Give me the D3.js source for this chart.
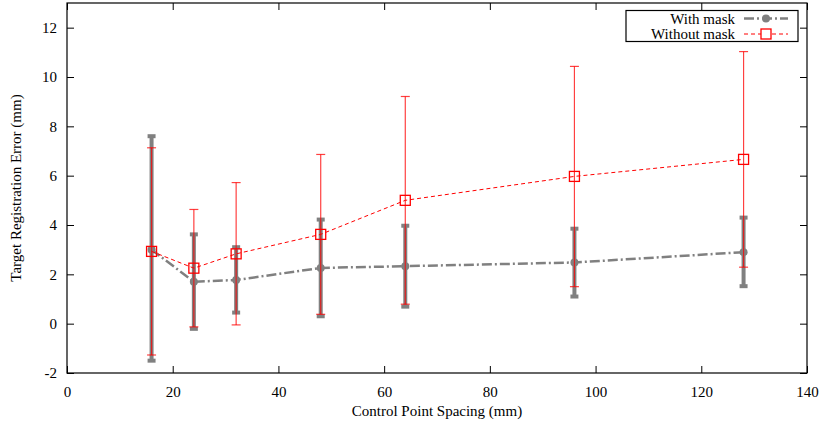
<!DOCTYPE html>
<html>
<head>
<meta charset="utf-8">
<script src="https://cdn.jsdelivr.net/npm/d3@7"></script>
<style>
  body { margin: 0; background: #fff; }
  svg text { font-family: 'Liberation Serif', 'Times New Roman', Times, 'DejaVu Serif', serif !important; }
</style>
</head>
<body>
<svg class="tre-chart"></svg>
<script>
// control point spacing (mm)
const spacing = [16, 24, 32, 48, 64, 96, 128];

// with mask: mean and error bar ends
const withMask = [3.0, 1.70, 1.77, 2.26, 2.33, 2.48, 2.90];
const withMaskLow = [-1.5, -0.21, 0.45, 0.30, 0.69, 1.10, 1.52];
const withMaskHigh = [7.6, 3.62, 3.10, 4.22, 3.97, 3.85, 4.30];

// without mask
const withoutMask = [2.93, 2.25, 2.83, 3.62, 5.00, 5.97, 6.66];
const withoutMaskLow = [-1.27, -0.13, -0.05, 0.38, 0.79, 1.50, 2.29];
const withoutMaskHigh = [7.13, 4.63, 5.72, 6.86, 9.21, 10.43, 11.03];

const xTicks = [0, 20, 40, 60, 80, 100, 120, 140];
const yTicks = [-2, 0, 2, 4, 6, 8, 10, 12];

const width = 821;
const height = 423;
const margin = { top: 3, right: 14, bottom: 50, left: 67 };
const fontSize = 15;

const svg = d3.select('.tre-chart')
  .attr('width', width)
  .attr('height', height);

const x = d3.scaleLinear().domain([0, 140]).range([margin.left, width - margin.right]);
const y = d3.scaleLinear().domain([-2, 13]).range([height - margin.bottom, margin.top]);

const plotLeft = x(0);
const plotRight = x(140);
const plotTop = y(13);
const plotBottom = y(-2);

// frame with inward ticks on all four sides
svg.append('rect')
  .attr('x', plotLeft)
  .attr('y', plotTop)
  .attr('width', plotRight - plotLeft)
  .attr('height', plotBottom - plotTop)
  .attr('fill', 'none')
  .attr('stroke', '#000')
  .attr('stroke-width', 1.2);

const tickLen = 7;

// bottom axis
const xAxis = svg.append('g')
  .attr('transform', `translate(0, ${plotBottom})`)
  .call(d3.axisBottom(x).tickValues(xTicks).tickSize(-tickLen).tickPadding(13).tickFormat(String));
xAxis.select('.domain').remove();

// top mirror ticks
const xAxisTop = svg.append('g')
  .attr('transform', `translate(0, ${plotTop})`)
  .call(d3.axisTop(x).tickValues(xTicks).tickSize(-tickLen).tickFormat(''));
xAxisTop.select('.domain').remove();

// left axis
const yAxis = svg.append('g')
  .attr('transform', `translate(${plotLeft}, 0)`)
  .call(d3.axisLeft(y).tickValues(yTicks).tickSize(-tickLen).tickPadding(10).tickFormat(String));
yAxis.select('.domain').remove();

// right mirror ticks
const yAxisRight = svg.append('g')
  .attr('transform', `translate(${plotRight}, 0)`)
  .call(d3.axisRight(y).tickValues(yTicks).tickSize(-tickLen).tickFormat(''));
yAxisRight.select('.domain').remove();

svg.selectAll('g').attr('font-family', null);
svg.selectAll('.tick line').attr('stroke', '#000').attr('stroke-width', 1);
svg.selectAll('.tick text')
  .attr('font-size', fontSize)
  .attr('fill', '#000');

// axis titles
svg.append('text')
  .attr('x', x(70))
  .attr('y', 416)
  .attr('text-anchor', 'middle')
  .attr('font-size', fontSize)
  .text('Control Point Spacing (mm)');

svg.append('text')
  .attr('transform', `translate(21, ${y(5.5)}) rotate(-90)`)
  .attr('text-anchor', 'middle')
  .attr('font-size', fontSize)
  .text('Target Registration Error (mm)');

const gray = '#808080';
const red = '#ff0000';

const rows = spacing.map((s, i) => ({
  s,
  m: withMask[i],
  mLo: withMaskLow[i],
  mHi: withMaskHigh[i],
  n: withoutMask[i],
  nLo: withoutMaskLow[i],
  nHi: withoutMaskHigh[i],
}));

const plot = svg.append('g');

// with mask error bars
const grayBars = plot.append('g').attr('stroke', gray).attr('stroke-width', 4);
grayBars.selectAll('line.bar')
  .data(rows)
  .enter().append('line')
  .attr('class', 'bar')
  .attr('x1', d => x(d.s))
  .attr('x2', d => x(d.s))
  .attr('y1', d => y(d.mLo))
  .attr('y2', d => y(d.mHi));
['mLo', 'mHi'].forEach((k) => {
  grayBars.selectAll(`line.cap-${k}`)
    .data(rows)
    .enter().append('line')
    .attr('class', `cap-${k}`)
    .attr('x1', d => x(d.s) - 4)
    .attr('x2', d => x(d.s) + 4)
    .attr('y1', d => y(d[k]))
    .attr('y2', d => y(d[k]));
});

// with mask line
const grayLine = d3.line()
  .x(d => x(d.s))
  .y(d => y(d.m));

plot.append('path')
  .datum(rows)
  .attr('d', grayLine)
  .attr('fill', 'none')
  .attr('stroke', gray)
  .attr('stroke-width', 2.5)
  .attr('stroke-dasharray', '10,3,2,3');

plot.selectAll('circle.pt')
  .data(rows)
  .enter().append('circle')
  .attr('class', 'pt')
  .attr('cx', d => x(d.s))
  .attr('cy', d => y(d.m))
  .attr('r', 4)
  .attr('fill', gray);

// without mask error bars
const redBars = plot.append('g').attr('stroke', red).attr('stroke-width', 1.2).attr('stroke-opacity', 0.75);
redBars.selectAll('line.bar')
  .data(rows)
  .enter().append('line')
  .attr('class', 'bar')
  .attr('x1', d => x(d.s))
  .attr('x2', d => x(d.s))
  .attr('y1', d => y(d.nLo))
  .attr('y2', d => y(d.nHi));
['nLo', 'nHi'].forEach((k) => {
  redBars.selectAll(`line.cap-${k}`)
    .data(rows)
    .enter().append('line')
    .attr('class', `cap-${k}`)
    .attr('x1', d => x(d.s) - 4.5)
    .attr('x2', d => x(d.s) + 4.5)
    .attr('y1', d => y(d[k]))
    .attr('y2', d => y(d[k]));
});

// without mask line
const redLine = d3.line()
  .x(d => x(d.s))
  .y(d => y(d.n));

plot.append('path')
  .datum(rows)
  .attr('d', redLine)
  .attr('fill', 'none')
  .attr('stroke', red)
  .attr('stroke-width', 1)
  .attr('stroke-dasharray', '4,3');

plot.selectAll('rect.pt')
  .data(rows)
  .enter().append('rect')
  .attr('class', 'pt')
  .attr('x', d => x(d.s) - 5)
  .attr('y', d => y(d.n) - 5)
  .attr('width', 10)
  .attr('height', 10)
  .attr('fill', 'none')
  .attr('stroke', red)
  .attr('stroke-width', 1.3);

// legend
const legend = svg.append('g');
legend.append('rect')
  .attr('x', 626)
  .attr('y', 10.5)
  .attr('width', 172)
  .attr('height', 31)
  .attr('fill', '#fff')
  .attr('stroke', '#000')
  .attr('stroke-width', 1.2);

const legendRows = [
  { label: 'With mask', yPos: 18.5 },
  { label: 'Without mask', yPos: 34 },
];

legend.selectAll('text')
  .data(legendRows)
  .enter().append('text')
  .attr('x', 735)
  .attr('y', d => d.yPos + 5)
  .attr('text-anchor', 'end')
  .attr('font-size', fontSize)
  .text(d => d.label);

legend.append('line')
  .attr('x1', 744).attr('x2', 788)
  .attr('y1', legendRows[0].yPos).attr('y2', legendRows[0].yPos)
  .attr('stroke', gray)
  .attr('stroke-width', 2.5)
  .attr('stroke-dasharray', '10,3,2,3');
legend.append('circle')
  .attr('cx', 766).attr('cy', legendRows[0].yPos)
  .attr('r', 4)
  .attr('fill', gray);

legend.append('line')
  .attr('x1', 744).attr('x2', 788)
  .attr('y1', legendRows[1].yPos).attr('y2', legendRows[1].yPos)
  .attr('stroke', red)
  .attr('stroke-width', 1)
  .attr('stroke-dasharray', '4,3');
legend.append('rect')
  .attr('x', 761).attr('y', legendRows[1].yPos - 5)
  .attr('width', 10).attr('height', 10)
  .attr('fill', '#fff')
  .attr('stroke', red)
  .attr('stroke-width', 1.3);
</script>
</body>
</html>
